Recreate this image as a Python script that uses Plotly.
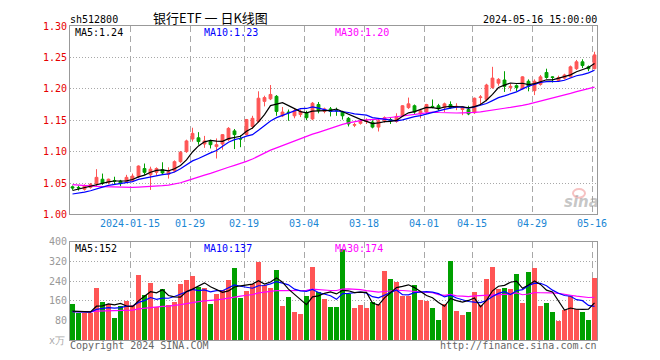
import pandas as pd
import numpy as np
import plotly.graph_objects as go

# ---------------- text ----------------
symbol = "sh512800"
title_text = "银行ETF 一 日K线图"
timestamp = "2024-05-16 15:00:00"
copyright_text = "Copyright 2024 SINA.COM"
url_text = "http://finance.sina.com.cn"
vol_unit = "x万"

# ---------------- trading days ----------------
holidays = pd.to_datetime(["2024-01-01", "2024-02-09", "2024-02-12", "2024-02-13", "2024-02-14",
                           "2024-02-15", "2024-02-16", "2024-04-04", "2024-04-05",
                           "2024-05-01", "2024-05-02", "2024-05-03"])
dates = [d for d in pd.bdate_range("2023-12-29", "2024-05-16") if d not in holidays]

tick_dates = ["2024-01-15", "2024-01-29", "2024-02-19", "2024-03-04", "2024-03-18",
              "2024-04-01", "2024-04-15", "2024-04-29", "2024-05-16"]
tick_labels = ["2024-01-15", "01-29", "02-19", "03-04", "03-18", "04-01", "04-15", "04-29", "05-16"]

# ---------------- OHLC ----------------
opens = [1.044, 1.043, 1.040, 1.043, 1.049, 1.056, 1.051, 1.054, 1.053, 1.052,
         1.054, 1.060, 1.073, 1.063, 1.067, 1.071, 1.064, 1.069, 1.084, 1.100,
         1.120, 1.122, 1.112, 1.116, 1.108, 1.112, 1.119, 1.133, 1.121, 1.127,
         1.140, 1.148, 1.180, 1.184, 1.188, 1.157, 1.163, 1.157, 1.159, 1.162,
         1.152, 1.175, 1.164, 1.168, 1.166, 1.163, 1.153, 1.142, 1.145, 1.148,
         1.147, 1.139, 1.149, 1.151, 1.148, 1.157, 1.170, 1.173, 1.160, 1.163,
         1.172, 1.173, 1.170, 1.175, 1.171, 1.167, 1.167, 1.162, 1.186, 1.183,
         1.202, 1.209, 1.214, 1.202, 1.205, 1.200, 1.212, 1.197, 1.207, 1.226,
         1.219, 1.213, 1.217, 1.219, 1.232, 1.243, 1.235, 1.232]
highs = [1.046, 1.046, 1.048, 1.050, 1.072, 1.065, 1.057, 1.060, 1.055, 1.063,
         1.065, 1.078, 1.081, 1.076, 1.075, 1.083, 1.075, 1.086, 1.101, 1.119,
         1.138, 1.131, 1.125, 1.119, 1.121, 1.128, 1.139, 1.136, 1.126, 1.152,
         1.157, 1.196, 1.189, 1.206, 1.190, 1.171, 1.167, 1.168, 1.167, 1.165,
         1.179, 1.179, 1.170, 1.171, 1.170, 1.165, 1.155, 1.146, 1.150, 1.153,
         1.150, 1.152, 1.156, 1.155, 1.161, 1.174, 1.186, 1.175, 1.168, 1.176,
         1.183, 1.176, 1.178, 1.180, 1.177, 1.172, 1.173, 1.186, 1.190, 1.208,
         1.235, 1.217, 1.228, 1.208, 1.207, 1.220, 1.215, 1.215, 1.222, 1.232,
         1.220, 1.221, 1.224, 1.237, 1.246, 1.247, 1.237, 1.259]
lows = [1.039, 1.038, 1.038, 1.041, 1.045, 1.047, 1.048, 1.047, 1.045, 1.050,
        1.052, 1.058, 1.063, 1.039, 1.062, 1.064, 1.057, 1.067, 1.082, 1.098,
        1.116, 1.111, 1.106, 1.105, 1.089, 1.103, 1.117, 1.104, 1.107, 1.126,
        1.136, 1.146, 1.172, 1.182, 1.157, 1.155, 1.149, 1.153, 1.155, 1.150,
        1.150, 1.161, 1.161, 1.156, 1.157, 1.151, 1.140, 1.139, 1.143, 1.144,
        1.137, 1.132, 1.146, 1.144, 1.146, 1.155, 1.168, 1.160, 1.153, 1.160,
        1.169, 1.165, 1.163, 1.168, 1.166, 1.158, 1.158, 1.160, 1.174, 1.180,
        1.200, 1.205, 1.195, 1.196, 1.196, 1.199, 1.196, 1.190, 1.205, 1.216,
        1.210, 1.212, 1.215, 1.218, 1.230, 1.233, 1.228, 1.231]
closes = [1.042, 1.042, 1.046, 1.048, 1.059, 1.050, 1.056, 1.053, 1.049, 1.059,
          1.061, 1.077, 1.067, 1.072, 1.073, 1.066, 1.068, 1.084, 1.099, 1.117,
          1.129, 1.116, 1.117, 1.111, 1.111, 1.127, 1.137, 1.127, 1.120, 1.151,
          1.153, 1.185, 1.186, 1.191, 1.164, 1.163, 1.162, 1.165, 1.164, 1.154,
          1.177, 1.165, 1.168, 1.164, 1.165, 1.157, 1.144, 1.143, 1.148, 1.149,
          1.139, 1.149, 1.154, 1.150, 1.156, 1.173, 1.176, 1.163, 1.165, 1.175,
          1.171, 1.168, 1.176, 1.170, 1.172, 1.171, 1.160, 1.185, 1.187, 1.206,
          1.217, 1.215, 1.204, 1.204, 1.202, 1.219, 1.204, 1.212, 1.219, 1.218,
          1.218, 1.218, 1.222, 1.235, 1.243, 1.237, 1.232, 1.254]
# volume, unit 10k (万)
volumes = [149, 109, 109, 109, 213, 157, 147, 89, 140, 160,
           144, 264, 184, 233, 136, 209, 144, 157, 229, 247,
           260, 216, 213, 149, 189, 203, 247, 293, 173, 200,
           227, 317, 224, 213, 285, 140, 176, 116, 107, 180,
           300, 196, 169, 137, 137, 373, 187, 133, 144, 133,
           156, 147, 280, 249, 236, 180, 180, 223, 164, 160,
           133, 84, 147, 322, 117, 104, 116, 196, 144, 249,
           298, 209, 213, 209, 269, 153, 276, 295, 140, 152,
           116, 80, 124, 180, 127, 113, 84, 254]

# estimated sessions before the window (only feed the moving averages)
prior_closes = [1.072, 1.070, 1.071, 1.068, 1.066, 1.067, 1.064, 1.062, 1.063, 1.060,
                1.058, 1.059, 1.056, 1.054, 1.045, 1.040, 1.036, 1.033, 1.030, 1.028,
                1.030, 1.028, 1.026, 1.025, 1.026, 1.030, 1.036, 1.040, 1.042]
prior_volumes = [130, 118, 105, 122, 140, 112, 98, 125, 110, 135,
                 120, 104, 115, 128, 100, 118, 109, 97, 121, 113,
                 126, 108, 115, 102, 119, 111, 106, 123, 98]

# ---------------- styles ----------------
RED = "#ff5555"
GREEN = "#00a000"
BLUE_TXT = "#1a86d4"
PRICE_TXT = "#e60000"
GRID = "#a8a8a8"
BORDER = "#999999"
MONO = "DejaVu Sans Mono"
MA_COL = {5: "#000000", 10: "#0000ff", 30: "#ff00ff"}

# page has an 8px body margin: plot area lands at page x 70..597, y 20..340
BODY = 8

n = len(dates)
x = list(range(n))
slot = 5 / 12  # grid lines sit at the left edge of a candle slot
idx_of = {d.strftime("%Y-%m-%d"): i for i, d in enumerate(dates)}
tickpos = [idx_of[d] - slot for d in tick_dates]


def moving_avg(prior, vals, w):
    full = list(prior) + list(vals)
    off = len(prior)
    return [float(np.mean(full[off + k - w + 1: off + k + 1])) for k in range(len(vals))]


ma_p = {w: moving_avg(prior_closes, closes, w) for w in (5, 10, 30)}
ma_v = {w: moving_avg(prior_volumes, volumes, w) for w in (5, 10, 30)}
vol_colors = [RED if c >= o else GREEN for o, c in zip(opens, closes)]

fig = go.Figure()
fig.add_trace(go.Candlestick(
    x=x, open=opens, high=highs, low=lows, close=closes,
    increasing=dict(line=dict(color=RED, width=1), fillcolor=RED),
    decreasing=dict(line=dict(color=GREEN, width=1), fillcolor=GREEN),
    whiskerwidth=0, xaxis="x2", yaxis="y2", hoverinfo="skip"))
for w in (30, 10, 5):
    fig.add_trace(go.Scatter(x=x, y=ma_p[w], mode="lines", xaxis="x2", yaxis="y2",
                             line=dict(color=MA_COL[w], width=1.2), hoverinfo="skip"))

fig.add_trace(go.Bar(x=x, y=volumes, width=5 / 6, marker=dict(color=vol_colors, line=dict(width=0)),
                     xaxis="x", yaxis="y", hoverinfo="skip"))
for w in (30, 10, 5):
    fig.add_trace(go.Scatter(x=x, y=ma_v[w], mode="lines", xaxis="x", yaxis="y",
                             line=dict(color=MA_COL[w], width=1.2), hoverinfo="skip"))

xcommon = dict(range=[-slot, n - 1 + slot], tickvals=tickpos, ticktext=tick_labels,
               showgrid=True, gridcolor=GRID, griddash="6px,4px", gridwidth=1,
               showline=True, linecolor=BORDER, linewidth=1, mirror=True, ticks="",
               zeroline=False, fixedrange=True, rangeslider=dict(visible=False))

PL, PR, PT, PB = 70, 597, 20, 340
W, H = 660, 360

fig.update_layout(
    width=W, height=H,
    margin=dict(l=PL - BODY, r=W - (PR - BODY), t=PT - BODY, b=H - (PB - BODY), pad=0),
    paper_bgcolor="white", plot_bgcolor="white", showlegend=False,
    boxgap=0.33, bargap=0,
    xaxis=dict(domain=[0, 1], anchor="y", showticklabels=False, **xcommon),
    xaxis2=dict(domain=[0, 1], anchor="y2", matches="x", showticklabels=True,
                tickfont=dict(family=MONO, size=10, color=BLUE_TXT), **xcommon),
    yaxis=dict(domain=[0, 0.3125], range=[0, 400], tickvals=[80, 160, 240, 320, 400],
               showgrid=True, gridcolor=GRID, griddash="1px,2px", gridwidth=1,
               showline=True, linecolor=BORDER, mirror=True, ticks="", zeroline=False,
               tickfont=dict(family=MONO, size=10, color="#999999"), fixedrange=True),
    yaxis2=dict(domain=[0.4, 1], range=[1.0, 1.3],
                tickvals=[1.00, 1.05, 1.10, 1.15, 1.20, 1.25, 1.30], tickformat=".2f",
                showgrid=True, gridcolor=GRID, griddash="1px,2px", gridwidth=1,
                showline=True, linecolor=BORDER, mirror=True, ticks="", zeroline=False,
                tickfont=dict(family=MONO, size=10, color=PRICE_TXT), fixedrange=True),
)


def px(xp):
    return (xp - PL) / (PR - PL)


def py(yp):
    return (PB - yp) / (PB - PT)


def note(text, xp, yp, color="#000000", size=10, family=MONO, xanchor="left", **kw):
    fig.add_annotation(text=text, x=px(xp), y=py(yp), xref="paper", yref="paper",
                       showarrow=False, xanchor=xanchor, yanchor="middle", borderpad=0,
                       font=dict(family=family, size=size, color=color, **kw))


note(symbol, 69, 13)
note(title_text, 210, 11, size=13, family="Noto Sans CJK SC", xanchor="center")
note(timestamp, 598, 13, xanchor="right")

note(f"MA5:{ma_p[5][-1]:.2f}", 74, 27, MA_COL[5])
note(f"MA10:{ma_p[10][-1]:.2f}", 203, 27, MA_COL[10])
note(f"MA30:{ma_p[30][-1]:.2f}", 334, 27, MA_COL[30])

note(f"MA5:{ma_v[5][-1]:.0f}", 74, 246.5, MA_COL[5])
note(f"MA10:{ma_v[10][-1]:.0f}", 203, 246.5, MA_COL[10])
note(f"MA30:{ma_v[30][-1]:.0f}", 334, 246.5, MA_COL[30])

note(vol_unit, 66, 341, "#aaaaaa", xanchor="right")
note(copyright_text, 69, 346, "#666666")
note(url_text, 598, 346, "#666666", xanchor="right")

# sina watermark
fig.add_shape(type="circle", xref="paper", yref="paper",
              x0=px(573), x1=px(585), y0=py(195), y1=py(186),
              line=dict(color="rgba(235,120,120,0.45)", width=2), fillcolor="rgba(0,0,0,0)")
note("sina", 581, 199, "rgba(150,150,150,0.55)", size=15, family="DejaVu Sans",
     xanchor="center", style="italic", weight="bold")

fig.write_html("out.html")
